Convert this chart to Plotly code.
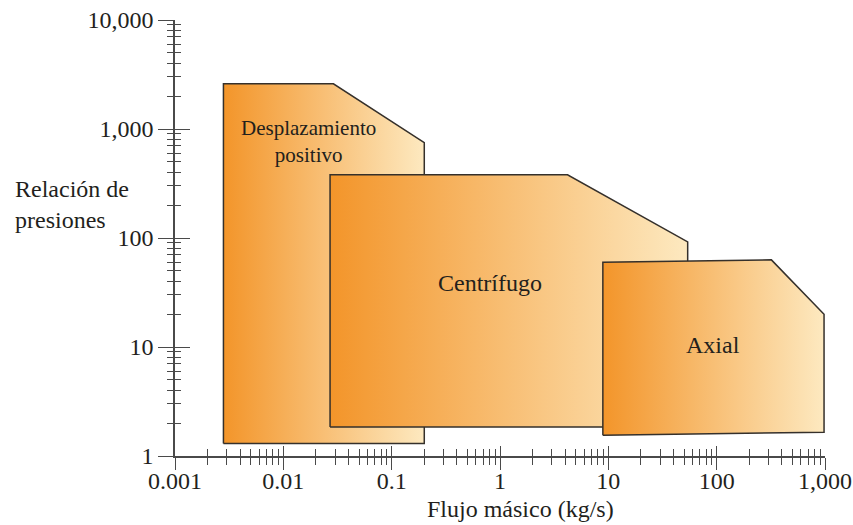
import math
import plotly.graph_objects as go

# ---- data (flow in kg/s, pressure ratio) ----
desp_x = [0.0028, 0.0028, 0.029, 0.2, 0.2, 0.0028]
desp_y = [1.3, 2600, 2600, 750, 1.3, 1.3]

cent_x = [0.027, 0.027, 4.2, 54, 54, 0.027]
cent_y = [1.85, 380, 380, 92, 1.85, 1.85]

axial_x = [8.9, 8.9, 320, 980, 980, 8.9]
axial_y = [1.55, 60, 63, 20, 1.65, 1.55]

region_names = ["Desplazamiento<br>positivo", "Centrífugo", "Axial"]
label_pos = [(0.017, 760), (0.81, 38.6), (92.5, 10.4)]
label_sizes = [21, 24, 24]

x_tickvals = [0.001, 0.01, 0.1, 1, 10, 100, 1000]
x_ticktext = ["0.001", "0.01", "0.1", "1", "10", "100", "1,000"]
y_tickvals = [1, 10, 100, 1000, 10000]
y_ticktext = ["1", "10", "100", "1,000", "10,000"]

x_minor = [m * 10 ** e for e in range(-3, 3) for m in range(2, 10)]
y_minor = [m * 10 ** e for e in range(0, 4) for m in range(2, 10)]

FONT = "Liberation Serif"
TXT = "#231f1c"
AX = "#4a4a4a"
grad = [[0, "#F3952A"], [1, "#FDE9C0"]]

fig = go.Figure()
for xs, ys in [(desp_x, desp_y), (cent_x, cent_y), (axial_x, axial_y)]:
    fig.add_trace(go.Scatter(
        x=xs, y=ys, mode="lines", fill="toself",
        fillgradient=dict(type="horizontal", colorscale=grad),
        line=dict(color="#35302b", width=1.5),
        hoverinfo="skip", showlegend=False))

# dummy traces for the overlay axes (inner half of crossing ticks)
fig.add_trace(go.Scatter(x=[], y=[], xaxis="x2", yaxis="y", showlegend=False))
fig.add_trace(go.Scatter(x=[], y=[], xaxis="x", yaxis="y2", showlegend=False))

common = dict(type="log", showgrid=False, zeroline=False, tickcolor=AX,
              tickwidth=1.3, automargin=False)

fig.update_layout(
    width=853, height=525,
    margin=dict(l=175, r=28, t=20, b=69),
    paper_bgcolor="white", plot_bgcolor="white",
    font=dict(family=FONT, color=TXT, size=24),
    xaxis=dict(**common, range=[-3, 3], tickmode="array", tickvals=x_tickvals,
               ticktext=x_ticktext, ticks="outside", ticklen=12,
               ticklabelstandoff=-10,
               showline=True, linecolor=AX, linewidth=1.5,
               tickfont=dict(size=24, family=FONT, color=TXT),
               minor=dict(tickmode="array", tickvals=x_minor, ticks="outside",
                          ticklen=7, tickcolor=AX, tickwidth=1, showgrid=False),
               anchor="y"),
    xaxis2=dict(**common, range=[-3, 3], overlaying="x", side="bottom", anchor="y",
                tickmode="array", tickvals=x_tickvals, ticks="inside", ticklen=10,
                showticklabels=False, showline=False,
                minor=dict(tickmode="array", tickvals=x_minor, ticks="inside",
                           ticklen=7, tickcolor=AX, tickwidth=1, showgrid=False)),
    yaxis=dict(**common, range=[0, 4], tickmode="array", tickvals=y_tickvals,
               ticktext=y_ticktext, ticks="outside", ticklen=15,
               showline=True, linecolor=AX, linewidth=1.5,
               tickfont=dict(size=24, family=FONT, color=TXT),
               minor=dict(tickmode="array", tickvals=y_minor, ticks="outside",
                          ticklen=6, tickcolor=AX, tickwidth=1, showgrid=False),
               anchor="x"),
    yaxis2=dict(**common, range=[0, 4], overlaying="y", side="left", anchor="x",
                tickmode="array", tickvals=y_tickvals, ticks="inside", ticklen=15,
                showticklabels=False, showline=False,
                minor=dict(tickmode="array", tickvals=y_minor, ticks="inside",
                           ticklen=6, tickcolor=AX, tickwidth=1, showgrid=False)),
)

for name, (lx, ly), sz in zip(region_names, label_pos, label_sizes):
    fig.add_annotation(x=math.log10(lx), y=math.log10(ly), xref="x", yref="y",
                       text=name, showarrow=False, align="center",
                       font=dict(family=FONT, size=sz, color=TXT))

fig.add_annotation(x=-162 / 650, y=0.576, xref="paper", yref="paper",
                   text="Relación de<br>presiones", showarrow=False,
                   xanchor="left", yanchor="middle", align="left",
                   font=dict(family=FONT, size=24, color=TXT))
fig.add_annotation(x=0.531, y=-0.121, xref="paper", yref="paper",
                   text="Flujo másico (kg/s)", showarrow=False,
                   xanchor="center", yanchor="middle",
                   font=dict(family=FONT, size=24, color=TXT))

fig.write_html("out.html")
